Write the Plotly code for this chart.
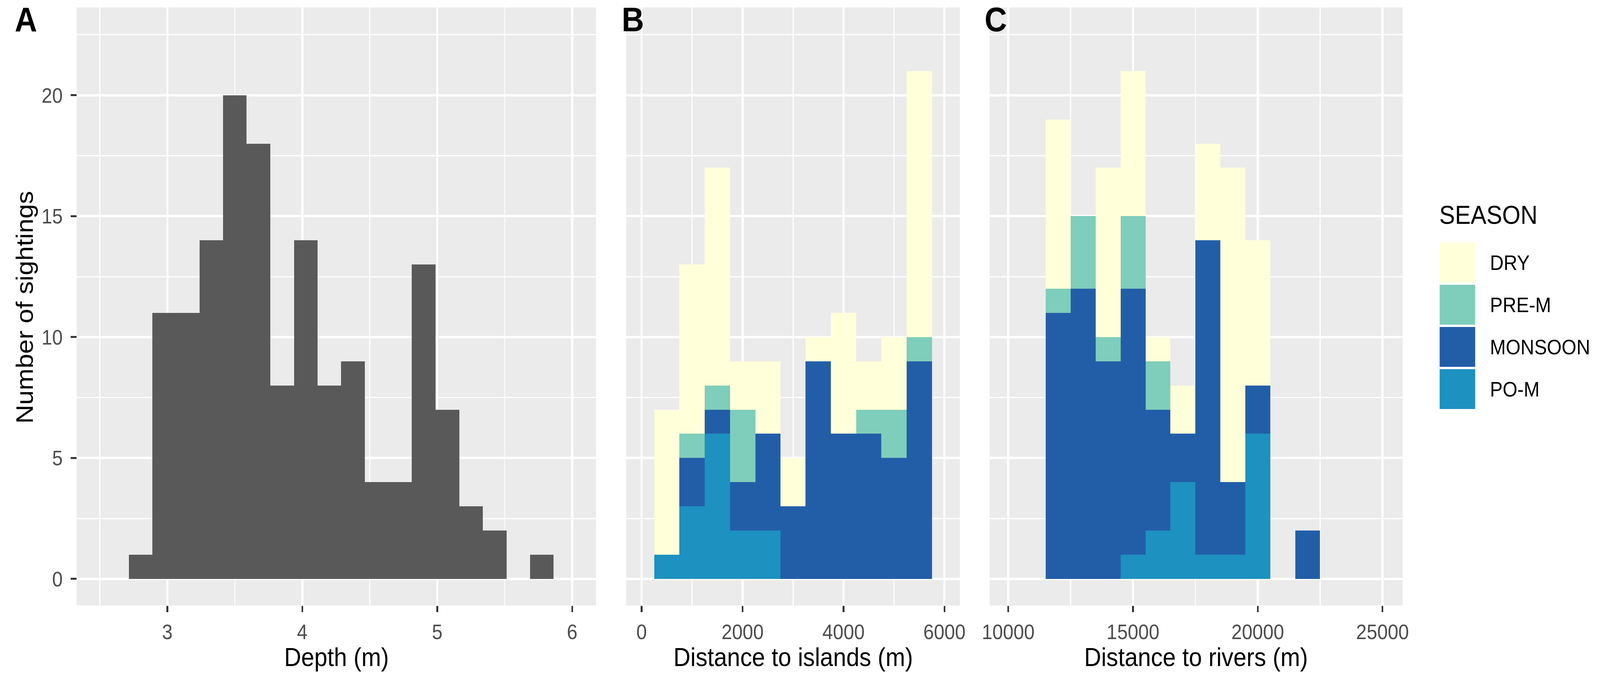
import plotly.graph_objects as go

# ====== Data ======
depth_centers = [2.8015, 2.9764, 3.1513, 3.3262, 3.5011, 3.6760, 3.8509, 4.0258, 4.2007,
                 4.3756, 4.5505, 4.7254, 4.9003, 5.0752, 5.2501, 5.4250, 5.5999, 5.7748]
depth_counts = [1, 11, 11, 14, 20, 18, 8, 14, 8, 9, 4, 4, 13, 7, 3, 2, 0, 1]
depth_width = 0.1749

seasons = ["DRY", "PRE-M", "MONSOON", "PO-M"]
season_colors = {"DRY": "#FFFFD9", "PRE-M": "#7FCDBB", "MONSOON": "#225EA8", "PO-M": "#1D91C0"}

island_centers = [500, 1000, 1500, 2000, 2500, 3000, 3500, 4000, 4500, 5000, 5500]
island_width = 500
island_counts = {
    "DRY":     [6, 7, 9, 2, 3, 2, 1, 5, 2, 3, 11],
    "PRE-M":   [0, 1, 1, 3, 0, 0, 0, 0, 1, 2, 1],
    "MONSOON": [0, 2, 1, 2, 4, 3, 9, 6, 6, 5, 9],
    "PO-M":    [1, 3, 6, 2, 2, 0, 0, 0, 0, 0, 0],
}

river_centers = [12000, 13000, 14000, 15000, 16000, 17000, 18000, 19000, 20000, 21000, 22000]
river_width = 1000
river_counts = {
    "DRY":     [7, 0, 7, 6, 1, 2, 4, 13, 6, 0, 0],
    "PRE-M":   [1, 3, 1, 3, 2, 0, 0, 0, 0, 0, 0],
    "MONSOON": [11, 12, 9, 11, 5, 2, 13, 3, 2, 0, 2],
    "PO-M":    [0, 0, 0, 1, 2, 4, 1, 1, 6, 0, 0],
}

# ====== Page geometry (pixels of the 4550x1733 page) ======
W, H = 4550, 1733
def px(x):
    return x / W
def py(y):
    return 1 - y / H

panel_top, panel_bot = 19, 1550
panels = {
    "x":  (197, 1687),
    "x2": (1774, 2731),
    "x3": (2817, 4002),
}

FONT = "Liberation Sans, Arial, sans-serif"
BG = "#EBEBEB"
TICKFONT = dict(family=FONT, size=54, color="#4D4D4D")

fig = go.Figure()

# Panel A
fig.add_trace(go.Bar(
    x=depth_centers, y=depth_counts, width=depth_width,
    marker=dict(color="#595959", line=dict(width=0)),
    xaxis="x", yaxis="y", showlegend=False, name="Depth"
))

# Panels B and C, stacked bottom -> top : PO-M, MONSOON, PRE-M, DRY
for s in reversed(seasons):
    fig.add_trace(go.Bar(
        x=island_centers, y=island_counts[s], width=island_width,
        marker=dict(color=season_colors[s], line=dict(width=0)),
        xaxis="x2", yaxis="y2", showlegend=False, name=s
    ))
    fig.add_trace(go.Bar(
        x=river_centers, y=river_counts[s], width=river_width,
        marker=dict(color=season_colors[s], line=dict(width=0)),
        xaxis="x3", yaxis="y3", showlegend=False, name=s
    ))

ydom = [py(panel_bot), py(panel_top)]
yrange = [-1.1, 23.63]

def xaxis_style(dom, rng, ticks, minor):
    return dict(
        domain=[px(dom[0]), px(dom[1])], range=rng,
        tickvals=ticks, ticktext=[str(t) for t in ticks],
        ticks="outside", ticklen=16, tickwidth=5, tickcolor="#333333",
        ticklabelstandoff=4,
        tickfont=TICKFONT, showline=False, zeroline=False,
        showgrid=True, gridcolor="white", gridwidth=6,
        minor=dict(tickvals=minor, showgrid=True, gridcolor="white", gridwidth=3, ticks=""),
        fixedrange=True,
    )

def yaxis_style(anchor, labels):
    return dict(
        domain=ydom, range=yrange, anchor=anchor,
        tickvals=[0, 5, 10, 15, 20],
        ticks="outside" if labels else "", ticklen=16, tickwidth=5, tickcolor="#333333",
        ticklabelstandoff=12,
        showticklabels=labels, tickfont=TICKFONT,
        showline=False, zeroline=False,
        showgrid=True, gridcolor="white", gridwidth=6,
        minor=dict(tickvals=[2.5, 7.5, 12.5, 17.5, 22.5], showgrid=True,
                   gridcolor="white", gridwidth=3, ticks=""),
        fixedrange=True,
    )

# panel backgrounds
shapes = []
for key, (x0, x1) in panels.items():
    shapes.append(dict(type="rect", xref="paper", yref="paper", layer="below",
                       x0=px(x0), x1=px(x1), y0=py(panel_bot), y1=py(panel_top),
                       fillcolor=BG, line=dict(width=0)))

annotations = []
# panel letters
for letter, xl in [("A", 17), ("B", 1759), ("C", 2800)]:
    annotations.append(dict(text=f"<b>{letter}</b>", xref="paper", yref="paper",
                            x=px(xl), y=py(50), xanchor="left", yanchor="middle",
                            showarrow=False, font=dict(family=FONT, size=88, color="black")))
# axis titles
for text, (x0, x1) in [("Depth (m)", panels["x"]),
                       ("Distance to islands (m)", panels["x2"]),
                       ("Distance to rivers (m)", panels["x3"])]:
    annotations.append(dict(text=text, xref="paper", yref="paper",
                            x=px((x0 + x1) / 2), y=py(1681), xanchor="center", yanchor="middle",
                            showarrow=False, font=dict(family=FONT, size=67, color="black")))
annotations.append(dict(text="Number of sightings", xref="paper", yref="paper",
                        x=px(47), y=py(787), xanchor="center", yanchor="middle", textangle=-90,
                        showarrow=False, font=dict(family=FONT, size=67, color="black")))

# legend drawn by hand (keys sized like the reference)
annotations.append(dict(text="SEASON", xref="paper", yref="paper",
                        x=px(4105), y=py(549), xanchor="left", yanchor="middle",
                        showarrow=False, font=dict(family=FONT, size=67, color="black")))
key_x0, key_x1, key_top, key_h, key_pitch = 4108, 4210, 621, 102, 108
for i, s in enumerate(seasons):
    y0 = key_top + i * key_pitch
    shapes.append(dict(type="rect", xref="paper", yref="paper",
                       x0=px(key_x0), x1=px(key_x1), y0=py(y0 + key_h), y1=py(y0),
                       fillcolor=season_colors[s], line=dict(width=0)))
    annotations.append(dict(text=s, xref="paper", yref="paper",
                            x=px(4250), y=py(y0 + key_h / 2), xanchor="left", yanchor="middle",
                            showarrow=False, font=dict(family=FONT, size=54, color="black")))

fig.update_layout(
    width=W, height=H,
    margin=dict(l=0, r=0, t=0, b=0),
    paper_bgcolor="white", plot_bgcolor=BG,
    barmode="stack", bargap=0,
    showlegend=False,
    font=dict(family=FONT),
    xaxis=xaxis_style(panels["x"], [2.329, 6.176], [3, 4, 5, 6], [2.5, 3.5, 4.5, 5.5]),
    xaxis2=xaxis_style(panels["x2"], [-304, 6304], [0, 2000, 4000, 6000], [1000, 3000, 5000]),
    xaxis3=xaxis_style(panels["x3"], [9260, 25810], [10000, 15000, 20000, 25000], [12500, 17500, 22500]),
    yaxis=yaxis_style("x", True),
    yaxis2=yaxis_style("x2", False),
    yaxis3=yaxis_style("x3", False),
    shapes=shapes,
    annotations=annotations,
)

# the window's CSS viewport is not exactly the figure size: scale the figure so it
# fills the viewport, and keep the page itself no larger than the viewport
fit_js = """
var gd = document.getElementById('{plot_id}');
var vw = window.innerWidth, vh = window.innerHeight;
var kx = vw / %d, ky = vh / %d;
document.documentElement.style.overflow = 'hidden';
document.body.style.margin = '0';
document.body.style.overflow = 'hidden';
var wrap = gd.parentElement;
wrap.style.width = vw + 'px';
wrap.style.height = vh + 'px';
wrap.style.overflow = 'hidden';
gd.style.transformOrigin = '0 0';
gd.style.transform = 'scale(' + kx + ',' + ky + ')';
""" % (W, H)

fig.write_html("out.html", post_script=fit_js, config={"displayModeBar": False})
